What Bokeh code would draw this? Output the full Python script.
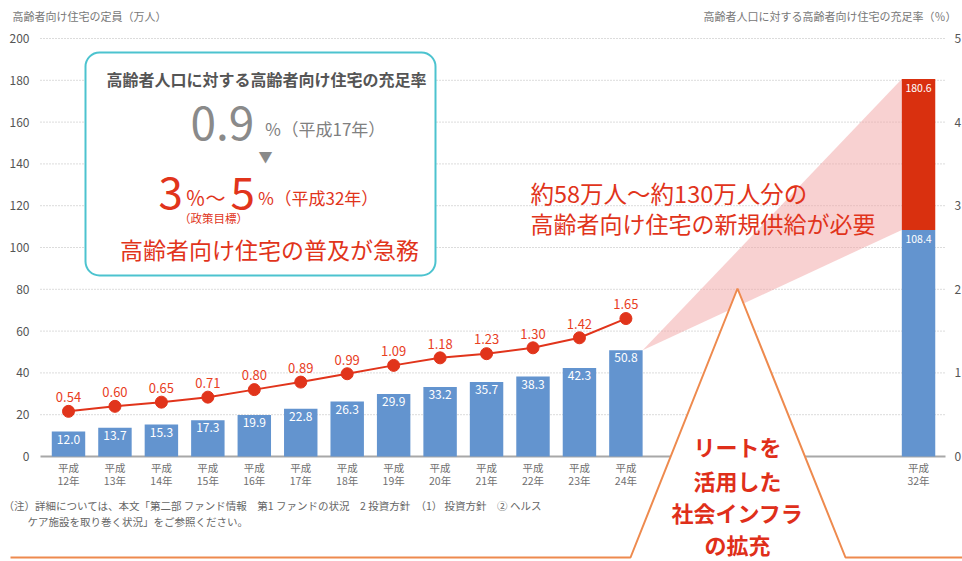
from bokeh.plotting import figure
from bokeh.models import Range1d, LinearAxis, FixedTicker, BoxAnnotation, Label, ColumnDataSource
from bokeh.core.properties import value
from bokeh.embed import file_html
from bokeh.resources import INLINE

# ---------------- data ----------------
years = ["平成\n12年", "平成\n13年", "平成\n14年", "平成\n15年", "平成\n16年", "平成\n17年",
         "平成\n18年", "平成\n19年", "平成\n20年", "平成\n21年", "平成\n22年", "平成\n23年", "平成\n24年"]
capacity = [12.0, 13.7, 15.3, 17.3, 19.9, 22.8, 26.3, 29.9, 33.2, 35.7, 38.3, 42.3, 50.8]
rate = [0.54, 0.60, 0.65, 0.71, 0.80, 0.89, 0.99, 1.09, 1.18, 1.23, 1.30, 1.42, 1.65]
target_year = "平成\n32年"
target_base = 108.4
target_total = 180.6
left_ticks = [0, 20, 40, 60, 80, 100, 120, 140, 160, 180, 200]
right_ticks = [0, 1, 2, 3, 4, 5]

FONT = "Noto Sans CJK JP"
BLUE = "#6394cf"
RED = "#e1341b"
DARKRED = "#d9300f"
ORANGE = "#ee8a4e"

W, H = 962, 561
# ---------------- geometry helpers (canvas pixels -> data) ----------------
X0, DX = 68.0, 46.45      # pixel of first category, pixel spacing
Y0, DY = 456.0, 2.09      # pixel of zero, pixels per unit (left axis)
def X(px):
    return (px - X0) / DX
def Y(py):
    return (Y0 - py) / DY

GRID_L, GRID_R = 40, 945

xpos = list(range(len(years)))
x_target = 18.3
bar_w = 0.72
r_scale = 200.0 / 5.0

p = figure(width=W, height=H, output_backend="svg", toolbar_location=None,
           x_range=Range1d(X(0), X(W)), y_range=Range1d(Y(H), Y(0)),
           min_border_left=0, min_border_right=0, min_border_top=0, min_border_bottom=0,
           outline_line_color=None, background_fill_color="white", border_fill_color="white")
p.extra_y_ranges = {"rate": Range1d(Y(H) / r_scale, Y(0) / r_scale)}
p.xgrid.visible = False
p.ygrid.visible = False

# grid lines (drawn through the data scales)
gt = left_ticks[1:]
p.segment(x0=[X(GRID_L)] * len(gt), x1=[X(GRID_R)] * len(gt), y0=gt, y1=gt,
          line_color="#b8b8b8", line_dash="1 2", line_width=1)
p.segment(x0=[X(GRID_L)], x1=[X(GRID_R)], y0=[left_ticks[0]], y1=[left_ticks[0]],
          line_color="#a8a8a8", line_width=2)

# left axis
ya = p.yaxis[0]
ya.fixed_location = X(GRID_L)
ya.ticker = FixedTicker(ticks=left_ticks)
ya.axis_line_color = None
ya.major_tick_line_color = None
ya.minor_tick_line_color = None
ya.major_label_text_font = FONT
ya.major_label_text_font_size = "12px"
ya.major_label_text_color = "#555555"
ya.major_label_standoff = 5

# right axis
ra = LinearAxis(y_range_name="rate", ticker=FixedTicker(ticks=right_ticks), fixed_location=X(GRID_R))
ra.axis_line_color = None
ra.major_tick_line_color = None
ra.minor_tick_line_color = None
ra.major_label_text_font = FONT
ra.major_label_text_font_size = "12px"
ra.major_label_text_color = "#555555"
ra.major_label_standoff = 3
p.add_layout(ra, "right")

# x axis at zero
xa = p.xaxis[0]
xa.fixed_location = 0
xa.ticker = FixedTicker(ticks=xpos + [x_target])
overrides = {i: lab for i, lab in zip(xpos, years)}
overrides[x_target] = target_year
xa.major_label_overrides = overrides
xa.axis_line_color = None
xa.major_tick_line_color = None
xa.minor_tick_line_color = None
xa.major_label_text_font = FONT
xa.major_label_text_font_size = "10.5px"
xa.major_label_text_color = "#707070"
xa.major_label_text_line_height = 0.9
xa.major_label_standoff = -3

# pink wedge from last bar to target bar
wx = [xpos[-1] + bar_w / 2, x_target - bar_w / 2, x_target - bar_w / 2]
wy = [capacity[-1], target_total, target_base]
p.patch(wx, wy, fill_color="#f2a3a3", fill_alpha=0.5, line_color=None)

# bars
src = ColumnDataSource(dict(x=xpos, top=capacity, lab=["%.1f" % v for v in capacity],
                            ly=[v - 1.5 for v in capacity]))
p.vbar(x="x", top="top", bottom=0, width=bar_w, source=src, fill_color=BLUE, line_color=None)
p.vbar(x=[x_target], top=[target_base], bottom=0, width=bar_w, fill_color=BLUE, line_color=None)
p.vbar(x=[x_target], top=[target_total], bottom=target_base, width=bar_w, fill_color=DARKRED, line_color=None)
p.text(x="x", y="ly", text="lab", source=src, text_align="center", text_baseline="top",
       text_color="white", text_font=value(FONT), text_font_size="12px")
p.text(x=[x_target, x_target], y=[target_total - 2.5, target_base - 2.5],
       text=["%.1f" % target_total, "%.1f" % target_base], text_align="center", text_baseline="top",
       text_color="white", text_font=value(FONT), text_font_size="10.5px")

# rate line
rsrc = ColumnDataSource(dict(x=xpos, y=rate, lab=["%.2f" % v for v in rate], ly=[v + 0.11 for v in rate]))
p.line(x="x", y="y", source=rsrc, y_range_name="rate", line_color=RED, line_width=2)
p.scatter(x="x", y="y", source=rsrc, y_range_name="rate", size=12, fill_color=RED, line_color=RED)
p.text(x="x", y="ly", text="lab", source=rsrc, y_range_name="rate", text_align="center",
       text_baseline="bottom", text_color="#e8401f", text_font=value(FONT), text_font_size="13px")

# mountain (triangle) with open base and ground line
tri_x = [X(630), X(737), X(845)]
tri_y = [Y(557), Y(288), Y(557)]
tf = p.patch(tri_x, tri_y, fill_color="white", line_color=None)
tf.level = "overlay"
tl = p.line([X(10)] + tri_x + [X(W)], [Y(557)] + tri_y + [Y(557)], line_color=ORANGE, line_width=2)
tl.level = "overlay"
tt = p.text(x=[X(737)] * 4, y=[Y(445), Y(479), Y(511), Y(543)],
            text=["リートを", "活用した", "社会インフラ", "の拡充"], text_align="center",
            text_baseline="middle", text_color="#df2f1a", text_font=value(FONT),
            text_font_size="22px", text_font_style="bold")
tt.level = "overlay"

# info box
box = BoxAnnotation(left=X(85), right=X(435), top=Y(52), bottom=Y(275), fill_color="white", fill_alpha=1,
                    line_color="#4cc3cf", line_alpha=1, line_width=2, border_radius=14)
p.add_layout(box)

def lab(px, py, text, size, color, align="left", style="normal"):
    p.add_layout(Label(x=X(px), y=Y(py), text=text, text_align=align, text_baseline="middle",
                       text_font=FONT, text_font_size=size, text_color=color, text_font_style=style))

lab(266, 78, "高齢者人口に対する高齢者向け住宅の充足率", "16px", "#555555", "center", "bold")
lab(190, 122, "0.9", "46px", "#8a8a8a")
lab(264, 128, "％（平成17年）", "17px", "#808080")
lab(265, 155, "▼", "14px", "#8a8a8a", "center")
lab(158, 192, "3", "44px", RED)
lab(185, 197, "％～", "20px", RED)
lab(230, 192, "5", "44px", RED)
lab(257, 197, "％（平成32年）", "17px", RED)
lab(213, 217, "（政策目標）", "11.5px", RED, "center")
lab(269, 248, "高齢者向け住宅の普及が急務", "23px", RED, "center")

lab(530, 192, "約58万人～約130万人分の", "23.5px", RED)
lab(530, 222, "高齢者向け住宅の新規供給が必要", "23px", RED)

# axis titles
lab(12, 15, "高齢者向け住宅の定員（万人）", "11px", "#777777")
lab(956, 15, "高齢者人口に対する高齢者向け住宅の充足率（％）", "11px", "#777777", "right")

# footnote
lab(3, 505, "（注）詳細については、本文「第二部 ファンド情報　第1 ファンドの状況　2 投資方針　（1） 投資方針　② ヘルス",
    "10.5px", "#666666")
lab(27, 521, "ケア施設を取り巻く状況」をご参照ください。", "10.5px", "#666666")

open("out.html", "w").write(file_html(p, INLINE))
